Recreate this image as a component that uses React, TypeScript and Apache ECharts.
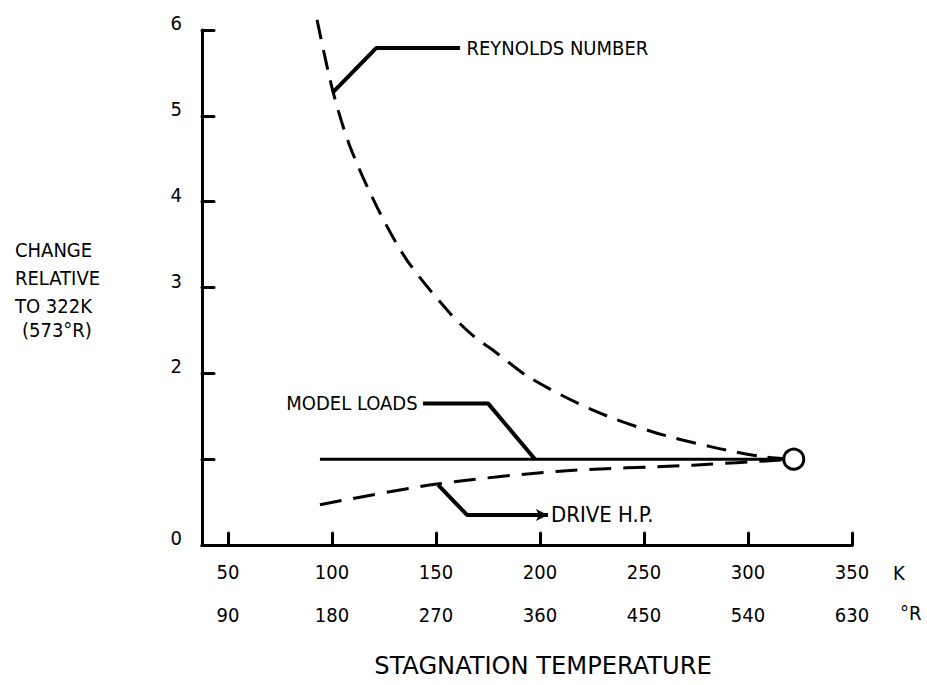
import React, { useEffect, useRef } from "react";
import * as echarts from "echarts";

const FONT = "'Liberation Sans Narrow', 'DejaVu Sans Condensed', 'Liberation Sans', sans-serif";

// Temperature axis ticks (K) and their Rankine equivalents
const kelvinTicks = [50, 100, 150, 200, 250, 300, 350];
const rankineTicks = [90, 180, 270, 360, 450, 540, 630];
const yTickLabels = [0, 2, 3, 4, 5, 6];

// Reynolds number curve (K, change relative to 322K)
const reynoldsK = [92.8, 100.5, 108.7, 121.6, 136, 156.7, 167.8, 179, 195, 225.5, 254, 283, 307, 322];
const reynoldsY = [6.12, 5.28, 4.64, 3.94, 3.32, 2.7, 2.44, 2.24, 1.95, 1.57, 1.32, 1.14, 1.03, 1.0];

// Model loads (constant)
const loadsK = [94.2, 322];
const loadsY = [1.0, 1.0];

// Drive horsepower
const driveK = [94.2, 150.5, 209.6, 273.6, 322];
const driveY = [0.47, 0.71, 0.86, 0.93, 1.0];

// Reference point
const refPoint = [322, 1.0];

// Leader lines for annotations
const reLeaderK = [100.3, 121.2, 161.5];
const reLeaderY = [5.27, 5.79, 5.79];
const loadsLeaderK = [143.8, 175, 197.6];
const loadsLeaderY = [1.65, 1.65, 1.0];
const driveLeaderK = [151, 164.9, 203.8];
const driveLeaderY = [0.7, 0.35, 0.35];

const zip = (a: number[], b: number[]) => a.map((v, i) => [v, b[i]]);

export default function App() {
  const ref = useRef<HTMLDivElement>(null);
  useEffect(() => {
    if (!ref.current) return;
    const chart = echarts.init(ref.current, null, { renderer: "svg" });
    const labelStyle = { color: "#000", fontSize: 20, fontFamily: FONT };
    const leaderStyle = { color: "#000", width: 4 };

    const reLeader = zip(reLeaderK, reLeaderY).map((p, i, arr) =>
      i === arr.length - 1
        ? {
            value: p,
            symbol: "circle",
            symbolSize: 1,
            label: { show: true, position: "right", distance: 6, formatter: "REYNOLDS NUMBER", ...labelStyle },
          }
        : { value: p }
    );
    const loadsLeader = zip(loadsLeaderK, loadsLeaderY).map((p, i) =>
      i === 0
        ? {
            value: p,
            symbol: "circle",
            symbolSize: 1,
            label: { show: true, position: "left", distance: 5, formatter: "MODEL LOADS", ...labelStyle },
          }
        : { value: p }
    );
    const driveLeader = zip(driveLeaderK, driveLeaderY).map((p, i, arr) =>
      i === arr.length - 1
        ? {
            value: p,
            symbol: "arrow",
            symbolSize: [9, 12],
            symbolRotate: -90,
            label: { show: true, position: "right", distance: 3, formatter: "DRIVE H.P.", ...labelStyle, fontSize: 22 },
          }
        : { value: p }
    );

    chart.setOption({
      animation: false,
      backgroundColor: "#fff",
      grid: { left: 202, right: 75, top: 30, bottom: 140, containLabel: false },
      xAxis: [
        {
          type: "value",
          min: 37.5,
          max: 350,
          splitLine: { show: false },
          axisLine: { show: true, lineStyle: { color: "#000", width: 3 } },
          axisTick: { show: true, inside: true, length: 12, customValues: kelvinTicks, lineStyle: { color: "#000", width: 3, cap: "round" } },
          axisLabel: { customValues: kelvinTicks, margin: 17, ...labelStyle },
        },
        {
          type: "value",
          position: "bottom",
          offset: 43,
          min: 37.5,
          max: 350,
          splitLine: { show: false },
          axisLine: { show: false },
          axisTick: { show: false },
          axisLabel: {
            customValues: kelvinTicks,
            margin: 17,
            formatter: (v: number) => String(rankineTicks[kelvinTicks.indexOf(v)] ?? ""),
            ...labelStyle,
          },
        },
      ],
      yAxis: {
        type: "value",
        min: 0,
        max: 6,
        interval: 1,
        splitLine: { show: false },
        axisLine: { show: true, lineStyle: { color: "#000", width: 3 } },
        axisTick: { show: true, inside: true, length: 12, lineStyle: { color: "#000", width: 3, cap: "round" } },
        axisLabel: { customValues: yTickLabels, margin: 20, verticalAlign: "bottom", lineHeight: 14, ...labelStyle },
      },
      series: [
        {
          name: "Reynolds number",
          type: "line",
          data: zip(reynoldsK, reynoldsY),
          smooth: 0.3,
          showSymbol: false,
          clip: false,
          lineStyle: { color: "#000", width: 3, type: [20, 11] },
        },
        {
          name: "Model loads",
          type: "line",
          data: zip(loadsK, loadsY),
          showSymbol: false,
          lineStyle: { color: "#000", width: 3 },
        },
        {
          name: "Drive H.P.",
          type: "line",
          data: zip(driveK, driveY),
          smooth: 0.3,
          showSymbol: false,
          lineStyle: { color: "#000", width: 3, type: [22, 12] },
        },
        { type: "line", data: reLeader, symbol: "none", showSymbol: true, itemStyle: { color: "#000" }, lineStyle: leaderStyle, clip: false },
        { type: "line", data: loadsLeader, symbol: "none", showSymbol: true, itemStyle: { color: "#000" }, lineStyle: leaderStyle },
        { type: "line", data: driveLeader, symbol: "none", showSymbol: true, itemStyle: { color: "#000" }, lineStyle: leaderStyle },
        {
          name: "322 K",
          type: "scatter",
          data: [refPoint],
          symbol: "circle",
          symbolSize: 20,
          itemStyle: { color: "#fff", borderColor: "#000", borderWidth: 3, opacity: 1 },
          z: 5,
        },
      ],
      graphic: [
        {
          type: "text",
          left: 15,
          top: 236,
          style: { text: "CHANGE\nRELATIVE\nTO 322K", lineHeight: 28, fill: "#000", fontSize: 20, fontFamily: FONT },
        },
        {
          type: "text",
          left: 22,
          top: 320,
          style: { text: "(573°R)", fill: "#000", fontSize: 20, fontFamily: FONT },
        },
        {
          type: "text",
          x: 893,
          y: 573,
          style: { text: "K", fill: "#000", fontSize: 20, fontFamily: FONT, verticalAlign: "middle" },
        },
        {
          type: "text",
          x: 900,
          y: 613,
          style: { text: "°R", fill: "#000", fontSize: 20, fontFamily: FONT, verticalAlign: "middle" },
        },
        {
          type: "text",
          x: 543,
          y: 666,
          scaleX: 1.12,
          style: { text: "STAGNATION TEMPERATURE", fill: "#000", fontSize: 24, fontFamily: FONT, align: "center", verticalAlign: "middle" },
        },
      ],
    });
    return () => chart.dispose();
  }, []);
  return <div ref={ref} style={{ position: "fixed", left: 0, top: 0, width: 927, height: 685 }} />;
}
